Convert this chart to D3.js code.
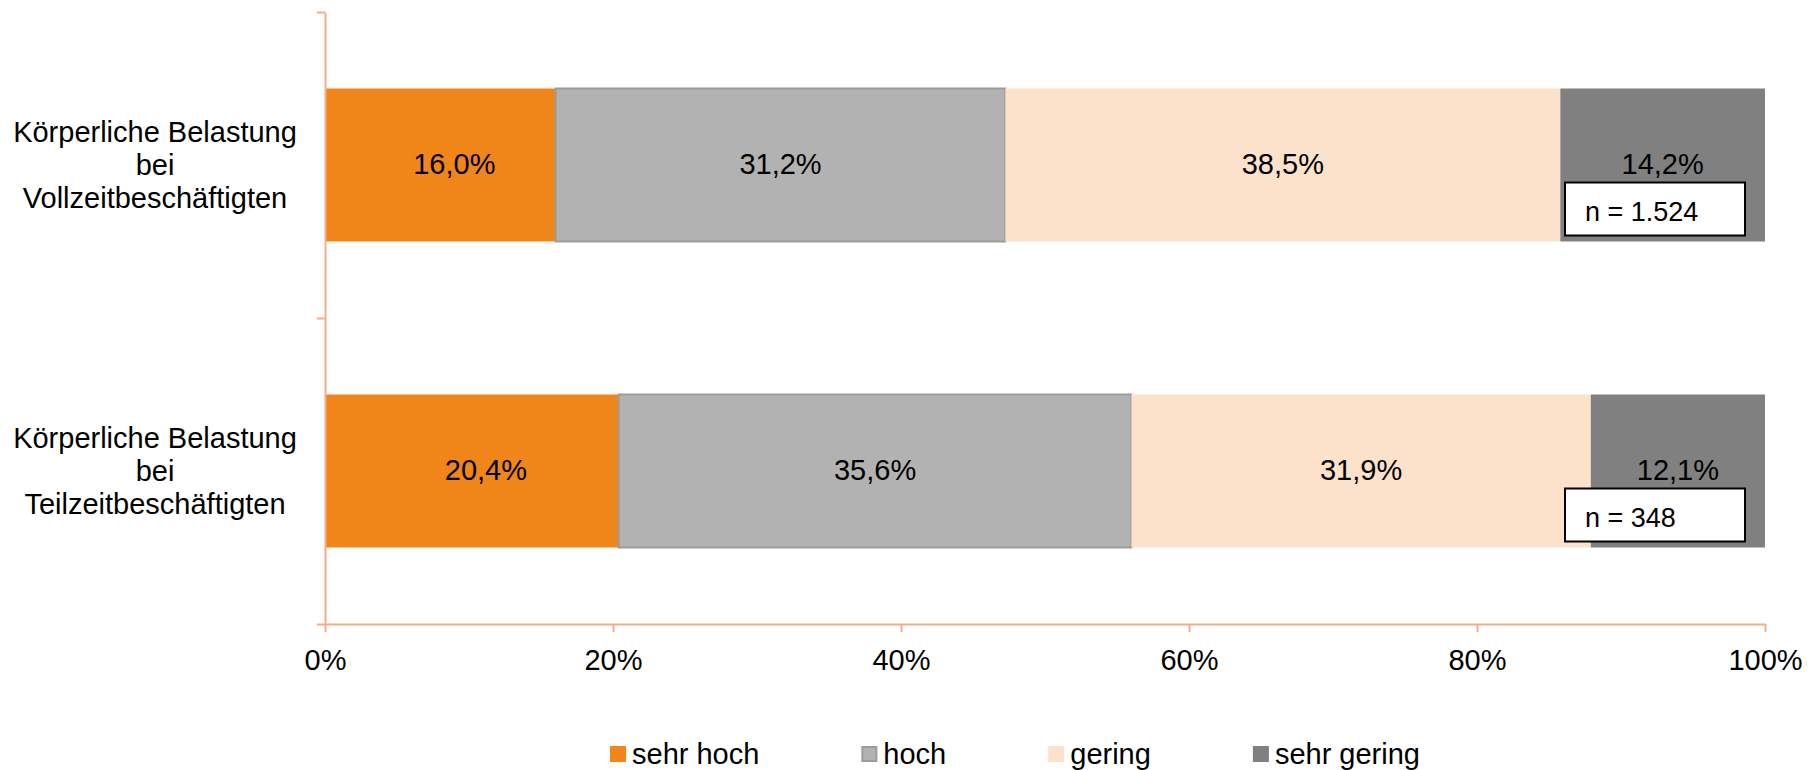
<!DOCTYPE html>
<html>
<head>
<meta charset="utf-8">
<script src="https://cdn.jsdelivr.net/npm/d3@7"></script>
<style>
  html, body { margin: 0; padding: 0; background: #fff; }
  svg text { font-family: "Liberation Sans", Arial, sans-serif; fill: #000; }
</style>
</head>
<body>
<div id="chart"></div>
<script>
/* chart data */
var categories = [
  ["Körperliche Belastung", "bei", "Vollzeitbeschäftigten"],
  ["Körperliche Belastung", "bei", "Teilzeitbeschäftigten"]
];
var seriesNames = ["sehr hoch", "hoch", "gering", "sehr gering"];
var sehrHoch = [16.0, 20.4];
var hoch = [31.2, 35.6];
var gering = [38.5, 31.9];
var sehrGering = [14.2, 12.1];
var sampleSizes = ["n = 1.524", "n = 348"];
var xTicks = [0, 0.2, 0.4, 0.6, 0.8, 1];

/* colours */
var colors = ["#F08619", "#B2B2B2", "#FCE2CA", "#808080"];
var strokes = ["none", "#9C9C96", "none", "none"];
var axisColor = "#F4AE88";

/* canvas */
var width = 1818,
    height = 770;

var plot = { left: 325, right: 1765, top: 12, bottom: 624 };

var svg = d3.select("#chart")
  .append("svg")
  .attr("width", width)
  .attr("height", height);

/* table for the stack */
var seriesValues = [sehrHoch, hoch, gering, sehrGering];
var table = categories.map(function (c, i) {
  var row = { idx: i };
  seriesNames.forEach(function (s, j) { row[s] = seriesValues[j][i]; });
  return row;
});

var stacked = d3.stack()
  .keys(seriesNames)
  .offset(d3.stackOffsetExpand)(table);

/* scales */
var x = d3.scaleLinear().domain([0, 1]).range([plot.left, plot.right]);
var y = d3.scaleBand()
  .domain(d3.range(categories.length))
  .range([plot.top, plot.bottom])
  .paddingInner(0.5)
  .paddingOuter(0.25);
var yLin = d3.scaleLinear().domain([0, categories.length]).range([plot.top, plot.bottom]);

var de = d3.formatLocale({ decimal: ",", thousands: ".", grouping: [3], currency: ["", "€"] });
var fmtVal = de.format(".1f");

/* bars */
var groups = svg.selectAll(".series")
  .data(stacked)
  .enter().append("g")
  .attr("class", "series");

groups.selectAll("rect")
  .data(function (d) { return d.map(function (p) { return { p: p, key: d.key, s: d.index }; }); })
  .enter().append("rect")
  .attr("x", function (d) { return x(d.p[0]); })
  .attr("y", function (d) { return y(d.p.data.idx); })
  .attr("width", function (d) { return x(d.p[1]) - x(d.p[0]); })
  .attr("height", y.bandwidth())
  .attr("fill", function (d) { return colors[d.s]; })
  .attr("stroke", function (d) { return strokes[d.s]; })
  .attr("stroke-width", 2);

/* value labels */
groups.selectAll("text")
  .data(function (d) { return d.map(function (p) { return { p: p, key: d.key, s: d.index }; }); })
  .enter().append("text")
  .attr("x", function (d) { return (x(d.p[0]) + x(d.p[1])) / 2 + (d.s === 0 ? 14 : 0); })
  .attr("y", function (d) { return y(d.p.data.idx) + y.bandwidth() / 2 + 9; })
  .attr("text-anchor", "middle")
  .style("font-size", "29px")
  .text(function (d) { return fmtVal(seriesValues[d.s][d.p.data.idx]) + "%"; });

/* sample size boxes */
var nBox = svg.selectAll(".nbox")
  .data(sampleSizes)
  .enter().append("g")
  .attr("class", "nbox");

nBox.append("rect")
  .attr("x", x(1) - 200)
  .attr("y", function (d, i) { return y(i) + 94; })
  .attr("width", 180)
  .attr("height", 53)
  .attr("fill", "#fff")
  .attr("stroke", "#000")
  .attr("stroke-width", 2);

nBox.append("text")
  .attr("x", x(1) - 180)
  .attr("y", function (d, i) { return y(i) + 132; })
  .style("font-size", "27px")
  .text(function (d) { return d; });

/* axes */
var yAxis = d3.axisLeft(yLin)
  .tickValues(d3.range(categories.length + 1))
  .tickFormat("")
  .tickSizeInner(8)
  .tickSizeOuter(0);

var yAxisG = svg.append("g")
  .attr("transform", "translate(" + plot.left + ",0)")
  .call(yAxis);

var xAxis = d3.axisBottom(x)
  .tickValues(xTicks)
  .tickFormat(d3.format(".0%"))
  .tickSizeInner(8)
  .tickSizeOuter(0)
  .tickPadding(17);

var xAxisG = svg.append("g")
  .attr("transform", "translate(0," + plot.bottom + ")")
  .call(xAxis);

[yAxisG, xAxisG].forEach(function (g) {
  g.selectAll(".domain, .tick line").attr("stroke", axisColor).attr("stroke-width", 2);
  g.selectAll("text").style("font-size", "29px").attr("fill", "#000");
});

/* category labels */
var catLabels = svg.selectAll(".cat")
  .data(categories)
  .enter().append("text")
  .attr("class", "cat")
  .attr("text-anchor", "middle")
  .style("font-size", "29px");

catLabels.selectAll("tspan")
  .data(function (d, i) { return d.map(function (line, k) { return { line: line, k: k, i: i, n: d.length }; }); })
  .enter().append("tspan")
  .attr("x", 155)
  .attr("y", function (d) {
    return y(d.i) + y.bandwidth() / 2 + (d.k - (d.n - 1) / 2) * 33 + 10;
  })
  .text(function (d) { return d.line; });

/* legend */
var legend = svg.append("g").attr("transform", "translate(610,746)");
var lx = 0;
seriesNames.forEach(function (name, i) {
  var item = legend.append("g").attr("transform", "translate(" + lx + ",0)");
  item.append("rect")
    .attr("x", strokes[i] === "none" ? 0 : 1)
    .attr("y", strokes[i] === "none" ? 0 : 1)
    .attr("width", strokes[i] === "none" ? 16 : 14)
    .attr("height", strokes[i] === "none" ? 16 : 14)
    .attr("fill", colors[i])
    .attr("stroke", strokes[i])
    .attr("stroke-width", 2);
  var t = item.append("text")
    .attr("x", 22)
    .attr("y", 18)
    .style("font-size", "29px")
    .text(name);
  lx += 22 + t.node().getComputedTextLength() + 102;
});
</script>
</body>
</html>
